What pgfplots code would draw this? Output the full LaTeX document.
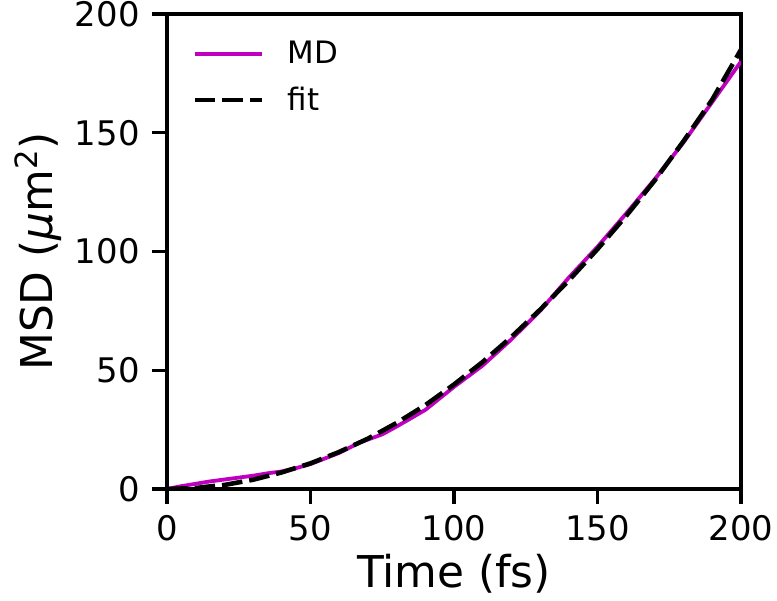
\documentclass[border=0pt]{standalone}
\usepackage{pgfplots}
\pgfplotsset{compat=1.18}
\usepackage{fontspec}
\setmainfont{DejaVu Sans}
\definecolor{mdmag}{rgb}{0.75,0,0.75}
\begin{document}
\begin{tikzpicture}
\useasboundingbox (-83.5bp,-56bp) rectangle (305bp,244.5bp);
\begin{axis}[
  at={(0,0)}, anchor=south west,
  scale only axis,
  width=287bp, height=237.5bp,
  xmin=0, xmax=200, ymin=0, ymax=200,
  xtick={0,50,100,150,200},
  ytick={0,50,100,150,200},
  axis line style={line width=2pt},
  tick style={line width=1.6pt, black},
  tick align=outside,
  major tick length=7.5bp,
  xtick pos=bottom, ytick pos=left,
  /pgf/number format/assume math mode=true,
  tick label style={font=\fontsize{17}{20}\selectfont, inner sep=0pt},
  xticklabel style={anchor=north, yshift=-5.5bp},
  yticklabel style={anchor=east, xshift=-6bp},
  xlabel={Time (fs)},
  ylabel={MSD ({\itshape μ}m\textsuperscript{2})},
  label style={font=\fontsize{22}{26}\selectfont},
  xlabel style={at={(axis description cs:0.5,-0.2084)}, anchor=base},
  ylabel style={at={(axis description cs:-0.224,0.5)}, anchor=center},
  legend style={draw=none, fill=none, inner sep=0pt, at={(0.0436,0.952)}, anchor=north west,
    font=\fontsize{15.5}{18}\selectfont, row sep=6bp},
  legend cell align=left,
  legend image code/.code={\draw[#1] (0bp,0bp) -- (33.5bp,0bp); \path (0bp,0bp) (43.5bp,0bp);},
]
\addplot[mdmag, line width=1.9pt] coordinates {
  (0,0)(5,1.2)(10,2.2)(15,3.2)(20,4)(25,4.8)(30,5.6)(35,6.6)(40,7.4)(45,8.8)
  (50,10.5)(60,15.2)(67,19.5)(75,23)(80,26.3)(90,33.3)(100,43)(110,52)
  (120,63)(130,75)(140,89)(150,102)(160,116)(170,130.5)(180,146)(190,163)(200,180)
};
\addlegendentry{MD}
\addplot[black, line width=2.3pt, dash pattern=on 10.3bp off 3.5bp] coordinates {
  (0,0)(10,0.4)(15,1.1)(20,1.7)(30,3.9)(40,7)(50,10.8)(60,15.6)(70,21.2)
  (80,27.8)(90,35.3)(100,44)(110,53.5)(120,64)(130,75.5)(140,87.8)
  (150,101)(160,115)(170,130)(180,146.5)(190,164)(200,185)
};
\addlegendentry{fit}
\end{axis}
\end{tikzpicture}
\end{document}
